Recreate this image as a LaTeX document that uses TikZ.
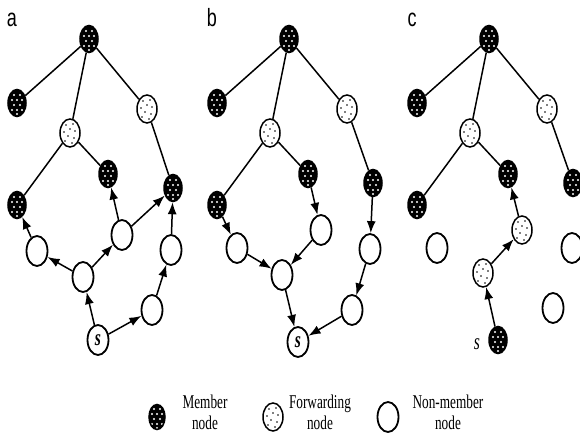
\documentclass[tikz,border=0pt]{standalone}
\usepackage{fontspec}
\setmainfont{Liberation Serif}
\newfontfamily\legendfont[FakeStretch=0.68]{Liberation Serif}
\newfontfamily\panelfont[FakeStretch=0.72]{Liberation Sans}
\usetikzlibrary{shapes.geometric,arrows.meta}

\tikzset{
  host/.style={ellipse,draw,line width=1.5pt,inner sep=0pt,minimum width=18pt,minimum height=27pt},
  member/.style={host,fill=black,path picture={
      \foreach \dx/\dy in {-3/8,3/8,-5/3,0/3,5/3,-3/-2,3/-2,-5/-7,0/-7,5/-7,0/-11}
        \fill [white] (path picture bounding box.center) ++(\dx pt,\dy pt) circle (1.1pt);}},
  forwarding/.style={host,fill=white,minimum width=20pt,minimum height=28pt,path picture={
      \foreach \dx/\dy in {-4/8,3/9,0/4,-6/1,5/2,-2/-3,4/-5,-5/-8,2/-10}
        \fill [black] (path picture bounding box.center) ++(\dx pt,\dy pt) circle (0.8pt);}},
  non-member/.style={host,fill=white,line width=1.8pt,minimum width=21pt,minimum height=30pt},
  link/.style={line width=1.5pt},
  hop/.style={line width=1.5pt,->,>={Latex[length=12pt,width=9pt]}},
  source/.style={font=\legendfont\itshape\bfseries\fontsize{23}{23}\selectfont},
  key text/.style={font=\legendfont\fontsize{19.5}{21}\selectfont,align=center},
}

\begin{document}
\begin{tikzpicture}[x=1pt,y=-1pt]
  \useasboundingbox (0,0) rectangle (580,435);

  % the same multicast tree in all three panels
  \foreach \p/\dx/\ry in {a/0/188,b/200/183,c/400/183} {
    \begin{scope}[xshift=\dx pt]
      \node (\p-label) [font=\panelfont\fontsize{25}{28}\selectfont,anchor=base] at (12,27) {\p};
      \node (\p-root) [member] at (89,39) {};
      \node (\p-leaf) [member] at (17,103) {};
      \node (\p-fwd-left) [forwarding] at (70,133) {};
      \node (\p-fwd-right) [forwarding] at (147,109) {};
      \node (\p-mid) [member] at (108,174) {};
      \node (\p-low) [member] at (17,205) {};
      \node (\p-right) [member] at (173,\ry) {};
      \draw [link] (\p-root) -- (\p-leaf);
      \draw [link] (\p-root) -- (\p-fwd-left);
      \draw [link] (\p-root) -- (\p-fwd-right);
      \draw [link] (\p-fwd-left) -- (\p-low);
      \draw [link] (\p-fwd-left) -- (\p-mid);
      \draw [link] (\p-fwd-right) -- (\p-right);
    \end{scope}
  }

  % a
  \node (a-n1) [non-member] at (37,251) {};
  \node (a-n2) [non-member] at (83,277) {};
  \node (a-n3) [non-member] at (122,235) {};
  \node (a-n4) [non-member] at (171,250) {};
  \node (a-n5) [non-member] at (152,310) {};
  \node (a-s) [non-member,source] at (98,340) {s};
  \draw [hop] (a-s) -- (a-n2);
  \draw [hop] (a-n2) -- (a-n1);
  \draw [hop] (a-n1) -- (a-low);
  \draw [hop] (a-n2) -- (a-n3);
  \draw [hop] (a-n3) -- (a-mid);
  \draw [hop] (a-n3) -- (a-right);
  \draw [hop] (a-s) -- (a-n5);
  \draw [hop] (a-n5) -- (a-n4);
  \draw [hop] (a-n4) -- (a-right);

  % b
  \node (b-n1) [non-member] at (237,248) {};
  \node (b-n2) [non-member] at (282,275) {};
  \node (b-n3) [non-member] at (321,230) {};
  \node (b-n4) [non-member] at (370,249) {};
  \node (b-n5) [non-member] at (352,310) {};
  \node (b-s) [non-member,source] at (298,342) {s};
  \draw [hop] (b-low) -- (b-n1);
  \draw [hop] (b-n1) -- (b-n2);
  \draw [hop] (b-mid) -- (b-n3);
  \draw [hop] (b-n3) -- (b-n2);
  \draw [hop] (b-n2) -- (b-s);
  \draw [hop] (b-right) -- (b-n4);
  \draw [hop] (b-n4) -- (b-n5);
  \draw [hop] (b-n5) -- (b-s);

  % c
  \node (c-n1) [non-member] at (437,248) {};
  \node (c-f1) [forwarding] at (483,273) {};
  \node (c-f2) [forwarding] at (522,230) {};
  \node (c-n2) [non-member] at (572,248) {};
  \node (c-n3) [non-member] at (553,308) {};
  \node (c-s) [member] at (498,340) {};
  \node (c-s-name) [source,font=\legendfont\itshape\fontsize{23}{23}\selectfont] at (477,344) {s};
  \draw [hop] (c-s) -- (c-f1);
  \draw [hop] (c-f1) -- (c-f2);
  \draw [hop] (c-f2) -- (c-mid);

  % key
  \node (key-member) [member,minimum width=16pt,minimum height=25pt] at (157,417) {};
  \node (key-member-text) [key text] at (205,412) {Member\\node};
  \node (key-forwarding) [forwarding] at (273,417) {};
  \node (key-forwarding-text) [key text] at (320,412) {Forwarding\\node};
  \node (key-non-member) [non-member] at (388,417) {};
  \node (key-non-member-text) [key text] at (448,412) {Non-member\\node};
\end{tikzpicture}
\end{document}
